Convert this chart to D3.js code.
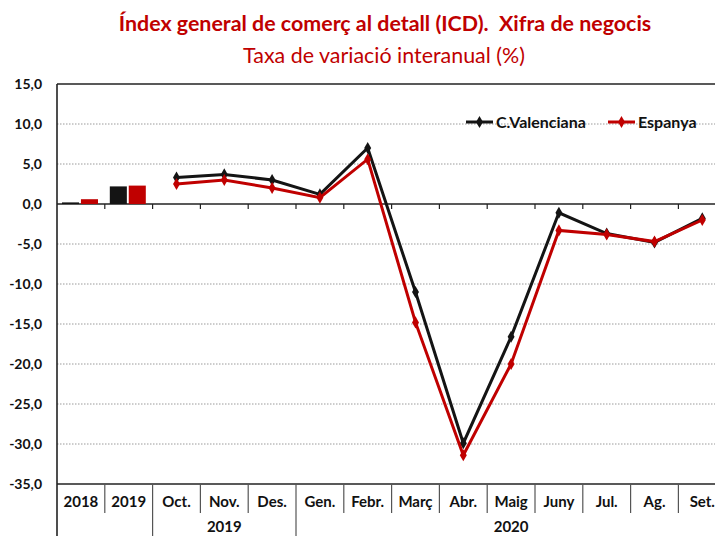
<!DOCTYPE html>
<html>
<head>
<meta charset="utf-8">
<script src="https://cdn.jsdelivr.net/npm/d3@7"></script>
<style>
  body { margin: 0; background: #fff; }
  svg { display: block; font-family: Lato, "Open Sans", sans-serif; }
</style>
</head>
<body>
<div class="icd-holder"></div>
<script>
const categories = ["2018", "2019", "Oct.", "Nov.", "Des.", "Gen.", "Febr.", "Març", "Abr.", "Maig", "Juny", "Jul.", "Ag.", "Set."];
const annualCats = ["2018", "2019"];
const annualCV = [0.2, 2.2];
const annualES = [0.6, 2.3];
const monthCats = ["Oct.", "Nov.", "Des.", "Gen.", "Febr.", "Març", "Abr.", "Maig", "Juny", "Jul.", "Ag.", "Set."];
const monthlyCV = [3.3, 3.7, 3.0, 1.2, 7.0, -11.0, -29.9, -16.6, -1.1, -3.7, -4.8, -1.8];
const monthlyES = [2.5, 3.0, 2.0, 0.8, 5.6, -14.8, -31.4, -20.0, -3.3, -3.8, -4.7, -2.0];
const yTicks = [15, 10, 5, 0, -5, -10, -15, -20, -25, -30, -35];
const yearLabels = ["2019", "2020"];
const yearFirst = ["Oct.", "Gen."];
const yearLast = ["Des.", "Set."];
const seriesNames = ["C.Valenciana", "Espanya"];

var W = 715, H = 536;
var margin = {top: 84, left: 57};
var step = 47.8;
var plotH = 400;

var colBlack = "#141414", colRed = "#c00000";

var svg = d3.select(".icd-holder").append("svg")
  .attr("width", W).attr("height", H);

var scaleX = d3.scaleBand().domain(categories)
  .range([margin.left, margin.left + step * categories.length]);
var scaleY = d3.scaleLinear().domain([-35, 15]).range([margin.top + plotH, margin.top]);
var xEnd = margin.left + step * categories.length;

// fit a text to a given width by scaling the font
function fitText(sel, w) {
  var len = sel.node().getComputedTextLength();
  var fs = parseFloat(sel.style("font-size"));
  sel.style("font-size", (fs * w / len) + "px");
}

/* Titles */
var t1 = svg.append("text").attr("x", 385).attr("y", 31).attr("text-anchor", "middle")
  .attr("fill", colRed).style("font-weight", "bold").style("font-size", "18px")
  .style("white-space", "pre")
  .text("Índex general de comerç al detall (ICD).  Xifra de negocis");
fitText(t1, 533);
var t2 = svg.append("text").attr("x", 384).attr("y", 63).attr("text-anchor", "middle")
  .attr("fill", colRed).style("font-size", "18px")
  .text("Taxa de variació interanual (%)");
fitText(t2, 282);

/* Gridlines (dotted) */
svg.append("g").selectAll("line")
  .data(yTicks.filter(d => d != 0 && d != 15 && d != -35))
  .enter().append("line")
  .attr("x1", margin.left).attr("x2", xEnd)
  .attr("y1", d => scaleY(d)).attr("y2", d => scaleY(d))
  .attr("stroke", "#9a9a9a").attr("stroke-width", 1)
  .attr("stroke-dasharray", "1.5,1.5");

/* Y labels */
svg.append("g").selectAll("text")
  .data(yTicks).enter().append("text")
  .attr("x", 42).attr("y", d => scaleY(d))
  .attr("dy", "0.35em").attr("text-anchor", "end")
  .style("font-weight", "bold").style("font-size", "14px").attr("fill", "#111")
  .text(d => d3.format(".1f")(d).replace(".", ",").replace("−", "-"));

/* Frame */
var frame = svg.append("g").attr("stroke", "#222").attr("stroke-width", 1.6);
frame.append("line").attr("x1", margin.left).attr("x2", xEnd)
  .attr("y1", scaleY(15)).attr("y2", scaleY(15));
frame.append("line").attr("x1", margin.left).attr("x2", xEnd)
  .attr("y1", scaleY(-35)).attr("y2", scaleY(-35));
frame.append("line").attr("x1", margin.left).attr("x2", margin.left)
  .attr("y1", scaleY(15)).attr("y2", H);

/* Zero axis with small ticks */
frame.append("line").attr("x1", margin.left).attr("x2", xEnd)
  .attr("y1", scaleY(0)).attr("y2", scaleY(0)).attr("stroke-width", 1.3);
svg.append("g").selectAll("line")
  .data(categories.slice(1)).enter().append("line")
  .attr("x1", d => scaleX(d)).attr("x2", d => scaleX(d))
  .attr("y1", scaleY(0)).attr("y2", scaleY(0) + 5)
  .attr("stroke", "#222").attr("stroke-width", 1.2);

/* Category separators below the axis */
var bottomY = scaleY(-35);
svg.append("g").selectAll("line")
  .data(categories.slice(1)).enter().append("line")
  .attr("x1", d => scaleX(d)).attr("x2", d => scaleX(d))
  .attr("y1", bottomY)
  .attr("y2", d => yearFirst.indexOf(d) >= 0 ? H : bottomY + 29)
  .attr("stroke", "#555").attr("stroke-width", 1.2);

/* Category labels */
svg.append("g").selectAll("text")
  .data(categories).enter().append("text")
  .attr("x", d => scaleX(d) + step / 2).attr("y", bottomY + 23)
  .attr("text-anchor", "middle")
  .style("font-weight", "bold").style("font-size", "15px").attr("fill", "#111")
  .text(d => d);

/* Year group labels */
svg.append("g").selectAll("text")
  .data(yearLabels).enter().append("text")
  .attr("x", (d, i) => (scaleX(yearFirst[i]) + scaleX(yearLast[i]) + step) / 2)
  .attr("y", bottomY + 48).attr("text-anchor", "middle")
  .style("font-weight", "bold").style("font-size", "15px").attr("fill", "#111")
  .text(d => d);

/* Annual bars */
var subX = d3.scaleBand().domain([0, 1]).range([5, 41]).paddingInner(0.1);
var barData = [];
annualCats.forEach((c, i) => {
  barData.push({cat: c, s: 0, v: annualCV[i]});
  barData.push({cat: c, s: 1, v: annualES[i]});
});
svg.append("g").selectAll("rect")
  .data(barData).enter().append("rect")
  .attr("x", d => scaleX(d.cat) + subX(d.s))
  .attr("width", subX.bandwidth())
  .attr("y", d => scaleY(Math.max(0, d.v)))
  .attr("height", d => Math.abs(scaleY(d.v) - scaleY(0)))
  .attr("fill", d => d.s == 0 ? colBlack : colRed);

/* Monthly lines */
var line = d3.line()
  .x(d => scaleX(d.cat) + step / 2)
  .y(d => scaleY(d.v));
var series = [
  {name: seriesNames[0], color: colBlack, values: monthCats.map((c, i) => ({cat: c, v: monthlyCV[i]}))},
  {name: seriesNames[1], color: colRed, values: monthCats.map((c, i) => ({cat: c, v: monthlyES[i]}))}
];
var diamond = d3.symbol().type(d3.symbolDiamond).size(42);

series.forEach(s => {
  svg.append("path").datum(s.values)
    .attr("d", line).attr("fill", "none")
    .attr("stroke", s.color).attr("stroke-width", 3).attr("stroke-linejoin", "miter");
  svg.append("g").selectAll("path")
    .data(s.values).enter().append("path")
    .attr("d", diamond)
    .attr("transform", d => `translate(${scaleX(d.cat) + step / 2}, ${scaleY(d.v)})`)
    .attr("fill", s.color);
});

/* Legend */
var legend = svg.append("g").attr("class", "legend")
  .style("font-weight", "bold").style("font-size", "16px");
var legX = [466, 608];
series.forEach((s, i) => {
  legend.append("line").attr("x1", legX[i]).attr("x2", legX[i] + 27)
    .attr("y1", 122).attr("y2", 122)
    .attr("stroke", s.color).attr("stroke-width", 3);
  legend.append("path").attr("d", diamond)
    .attr("transform", `translate(${legX[i] + 13.5}, 122)`).attr("fill", s.color);
  legend.append("text").attr("x", legX[i] + 30).attr("y", 122)
    .attr("dy", "0.35em").attr("fill", "#111").text(s.name);
});
</script>
</body>
</html>
